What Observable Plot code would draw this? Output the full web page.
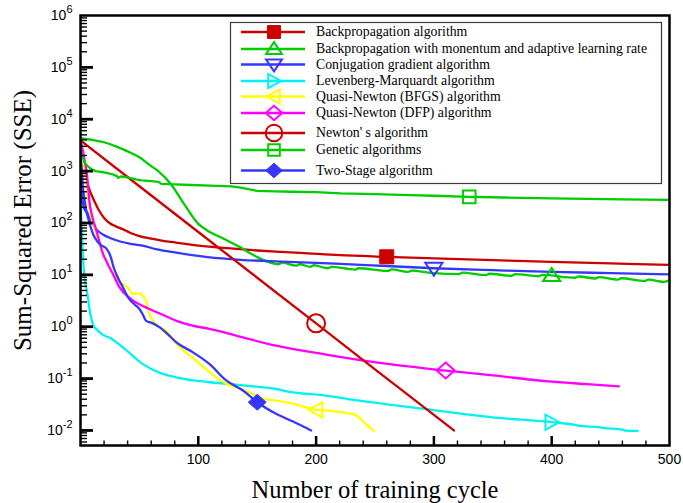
<!DOCTYPE html>
<html>
<head>
<meta charset="utf-8">
<script src="https://cdn.jsdelivr.net/npm/d3@7"></script>
<script src="https://cdn.jsdelivr.net/npm/@observablehq/plot@0.6"></script>
<style>
  html, body { margin: 0; padding: 0; background: #fff; }
  #chart svg { display: block; }
</style>
</head>
<body>
<div id="chart"></div>
<script>
// ---- Sum-squared error vs. training cycle, one pair of arrays per algorithm ----
const bpCycle = [0, 1, 2, 3, 4.8, 7, 10.4, 13, 16, 20, 24.6, 30, 35.8, 42, 50, 60, 70, 81, 95, 109, 130, 150, 166, 187, 220, 260, 300, 350, 400, 450, 500];
const bpSSE   = [3900, 3000, 2000, 1300, 740, 480, 310, 230, 170, 125, 100, 86, 76, 65, 56, 50, 45, 42, 38, 35, 32, 29.5, 28, 26.5, 24, 22.3, 20.8, 19.2, 17.8, 16.6, 15.5];

const bpmCycle = [0, 10, 20, 30, 40, 50, 60, 66, 77, 88, 100, 108, 122, 136, 150, 160, 168, 171, 183, 186, 195, 198, 210, 213, 233, 236, 261, 264, 278, 281, 298, 321, 324, 344, 347, 366, 369, 389, 392, 420, 423, 437, 440, 456, 459, 479, 482, 496, 499, 500];
const bpmSSE   = [4300, 4000, 3600, 3000, 2400, 1850, 1250, 1000, 550, 230, 96, 71, 49, 33.5, 22, 17.5, 16.0, 17.2, 15.0, 16.0, 14.3, 15.3, 13.4, 14.3, 12.6, 13.4, 11.9, 12.7, 11.4, 12.1, 10.9, 10.3, 11.0, 9.9, 10.5, 9.6, 10.3, 9.4, 10.0, 8.8, 9.3, 8.5, 9.0, 8.1, 8.6, 7.6, 8.1, 7.3, 7.7, 7.6];

const cgCycle = [0, 1, 2, 3.4, 4.8, 6.2, 9, 13.3, 19, 27.4, 41.5, 51.7, 65, 80, 108, 136, 170, 221, 260, 300, 350, 400, 450, 500];
const cgSSE   = [2500, 1200, 500, 290, 180, 150, 110, 76, 60, 49, 40, 37, 31, 27, 22, 19.5, 18, 16.3, 14.8, 13.4, 12.3, 11.4, 10.8, 10.2];

const lmCycle = [0, 1, 2, 3.4, 5, 6.5, 7.6, 9.3, 11, 13.6, 18, 24.8, 39, 53, 67, 81, 110, 138, 166, 179, 208, 235, 292, 348, 402, 420, 424, 440, 444, 460, 463, 473];
const lmSSE   = [300, 80, 25, 9, 5.5, 3.4, 2.2, 1.4, 1.05, 0.9, 0.72, 0.61, 0.35, 0.19, 0.13, 0.106, 0.085, 0.074, 0.063, 0.055, 0.047, 0.038, 0.026, 0.018, 0.0143, 0.0128, 0.0122, 0.0116, 0.0112, 0.0104, 0.0099, 0.0098];

const bfgsCycle = [0, 2, 3.5, 5.1, 7.9, 10.5, 13.6, 17, 22, 26, 30.2, 33, 35.9, 40, 44.3, 48.6, 52.8, 55.7, 57, 59.9, 64.1, 72.6, 81.4, 98.3, 115, 123.7, 132, 145, 155, 165, 180, 200, 212, 224, 234, 241, 249];
const bfgsSSE   = [3000, 1800, 900, 480, 170, 100, 60, 33, 18.6, 12, 8.9, 7.7, 6.6, 5.8, 4.3, 4.4, 4.0, 3.2, 2.3, 1.5, 1.12, 0.83, 0.47, 0.22, 0.106, 0.079, 0.068, 0.052, 0.041, 0.038, 0.033, 0.025, 0.024, 0.022, 0.0195, 0.014, 0.0098];

const dfpCycle = [0, 2, 3.5, 5.1, 7.9, 10.5, 13.6, 16.5, 19.2, 21.8, 27.4, 33, 41.5, 50, 58.5, 69.7, 81.4, 95, 109.6, 137.9, 166, 208.5, 254, 310, 350, 400, 430, 457];
const dfpSSE   = [3500, 2500, 1600, 1000, 230, 120, 70, 40, 25, 18.6, 10.5, 5.8, 3.6, 2.7, 2.2, 1.7, 1.3, 1.05, 0.91, 0.62, 0.43, 0.29, 0.2, 0.143, 0.115, 0.087, 0.078, 0.071];

const newtonCycle = [0, 50, 100, 150, 200, 250, 300, 317];
const newtonSSE   = [3900, 510, 67, 8.8, 1.16, 0.15, 0.02, 0.01];

const gaCycle = [0, 2, 4, 6, 8, 10, 13, 20, 27, 31, 32, 34, 40, 47, 52, 60, 66, 69, 80, 94, 110, 128, 136, 150, 165, 180, 200, 221, 250, 280, 300, 330, 360, 400, 430, 460, 500];
const gaSSE   = [2500, 1800, 1400, 1250, 1150, 1070, 1000, 950, 870, 800, 740, 790, 760, 690, 660, 640, 620, 565, 555, 540, 525, 510, 480, 415, 405, 400, 395, 372, 360, 345, 335, 318, 310, 298, 292, 285, 278];

const tsCycle = [0, 1, 2, 3, 5, 6.5, 8.5, 10.8, 14, 17.8, 22, 24.8, 26, 27.7, 30.2, 33, 35.9, 38.7, 41.5, 45.8, 50, 52.8, 55.7, 59.9, 64.4, 67, 74, 81.4, 95.5, 109.6, 123.7, 137.9, 150, 166, 180, 195.8];
const tsSSE   = [2500, 800, 250, 190, 160, 125, 85, 60, 45, 37, 32, 25, 21, 15, 10.5, 7.7, 5.8, 4.3, 3.4, 2.7, 2.2, 1.74, 1.3, 1.2, 1.07, 0.98, 0.72, 0.50, 0.32, 0.19, 0.092, 0.059, 0.035, 0.021, 0.015, 0.01];

// Legend names, in legend order
const algorithmNames = [
  "Backpropagation algorithm",
  "Backpropagation with monentum and adaptive learning rate",
  "Conjugation gradient algorithm",
  "Levenberg-Marquardt algorithm",
  "Quasi-Newton (BFGS) algorithm",
  "Quasi-Newton (DFP) algorithm",
  "Newton' s algorithm",
  "Genetic algorithms",
  "Two-Stage algorithm"
];

// Training cycle at which each curve carries its symbol
const markerCycle = [260, 400, 300, 400, 200, 310, 200, 330, 150];

// Axis ticks
const xTickLabels = [100, 200, 300, 400, 500];
const yDecades = [-2, -1, 0, 1, 2, 3, 4, 5, 6];
const xTitle = "Number of training cycle";
const yTitle = "Sum-Squared Error (SSE)";

// ---- Marker shapes (r = half-extent in px) ----
const shape = (fn) => ({ draw(ctx, size) { fn(ctx, Math.sqrt(size / Math.PI)); } });
const symSquare = shape((c, r) => { c.moveTo(-r, -r); c.lineTo(r, -r); c.lineTo(r, r); c.lineTo(-r, r); c.closePath(); });
const symTriUp = shape((c, r) => { c.moveTo(0, -r); c.lineTo(r * 1.15, r * 0.72); c.lineTo(-r * 1.15, r * 0.72); c.closePath(); });
const symTriDown = shape((c, r) => { c.moveTo(0, r); c.lineTo(r * 1.15, -r * 0.72); c.lineTo(-r * 1.15, -r * 0.72); c.closePath(); });
const symTriRight = shape((c, r) => { c.moveTo(r, 0); c.lineTo(-r * 0.8, r * 0.98); c.lineTo(-r * 0.8, -r * 0.98); c.closePath(); });
const symTriLeft = shape((c, r) => { c.moveTo(-r, 0); c.lineTo(r * 0.8, r * 0.98); c.lineTo(r * 0.8, -r * 0.98); c.closePath(); });
const symDiamond = shape((c, r) => { c.moveTo(0, -r * 0.88); c.lineTo(r, 0); c.lineTo(0, r * 0.88); c.lineTo(-r, 0); c.closePath(); });
const symCircle = shape((c, r) => { c.moveTo(r, 0); c.arc(0, 0, r, 0, 2 * Math.PI); });

const RED = "#cc0000", GREEN = "#00cc00", BLUE = "#3636ff", CYAN = "#00f2f2", YELLOW = "#ffff00", MAGENTA = "#ff00ff";

const styles = [
  { color: RED,     symbol: symSquare,   r: 7,   filled: true,  curve: "monotone-x" },
  { color: GREEN,   symbol: symTriUp,    r: 7.5, filled: false, curve: "monotone-x" },
  { color: BLUE,    symbol: symTriDown,  r: 7.5, filled: false, curve: "monotone-x" },
  { color: CYAN,    symbol: symTriRight, r: 7.8, filled: false, curve: "monotone-x" },
  { color: YELLOW,  symbol: symTriLeft,  r: 7.8, filled: false, curve: "monotone-x" },
  { color: MAGENTA, symbol: symDiamond,  r: 9,   filled: false, curve: "monotone-x" },
  { color: RED,     symbol: symCircle,   r: 9,   filled: false, curve: "linear" },
  { color: GREEN,   symbol: symSquare,   r: 6.3, filled: false, curve: "linear" },
  { color: BLUE,    symbol: symDiamond,  r: 9,   filled: true,  curve: "monotone-x" }
];

const cycles = [bpCycle, bpmCycle, cgCycle, lmCycle, bfgsCycle, dfpCycle, newtonCycle, gaCycle, tsCycle];
const errors = [bpSSE, bpmSSE, cgSSE, lmSSE, bfgsSSE, dfpSSE, newtonSSE, gaSSE, tsSSE];

// Tidy rows for each curve
const series = algorithmNames.map((name, i) => ({
  name,
  rows: cycles[i].map((c, j) => ({ cycle: c, sse: errors[i][j] })),
  ...styles[i]
}));

// Position of each curve's symbol: log-linear interpolation along its own data
function sseAt(cyc, sse, x) {
  for (let j = 0; j < cyc.length - 1; j++) {
    if (x >= cyc[j] && x <= cyc[j + 1]) {
      const t = (x - cyc[j]) / (cyc[j + 1] - cyc[j]);
      return 10 ** (Math.log10(sse[j]) * (1 - t) + Math.log10(sse[j + 1]) * t);
    }
  }
  return sse[sse.length - 1];
}
series.forEach((s, i) => { s.marker = { cycle: markerCycle[i], sse: sseAt(cycles[i], errors[i], markerCycle[i]) }; });

// Tick positions
const majorX = d3.range(100, 500, 100);
const minorX = d3.range(20, 500, 20).filter(v => v % 100 !== 0);
const majorY = yDecades.slice(0, -1).map(e => 10 ** e);
const yMin = 10 ** -2.29;
const minorY = [];
for (let e = -3; e < 6; e++) for (let m = 2; m <= 9; m++) { const v = m * 10 ** e; if (v > yMin && v < 1e6) minorY.push(v); }

const W = 683, H = 503;
const M = { top: 15, right: 14, bottom: 58, left: 80 };
const plotW = W - M.left - M.right, plotH = H - M.top - M.bottom;
const SERIF = "'Liberation Serif', 'Times New Roman', serif";
const SANS = "'Liberation Sans', Arial, sans-serif";

const svg = Plot.plot({
  width: W, height: H,
  marginTop: M.top, marginRight: M.right, marginBottom: M.bottom, marginLeft: M.left,
  style: { background: "white", color: "black" },
  x: { domain: [0, 500] },
  y: { type: "log", domain: [yMin, 1e6] },
  marks: [
    ...series.map(s => Plot.line(s.rows, { x: "cycle", y: "sse", stroke: s.color, strokeWidth: 2.3, curve: s.curve, clip: true })),
    ...series.map(s => Plot.dot([s.marker], {
      x: "cycle", y: "sse", symbol: s.symbol, r: s.r,
      fill: s.filled ? s.color : "none", stroke: s.color, strokeWidth: s.filled ? 1 : 2
    })),
    // inward ticks
    Plot.ruleX(minorX, { x: d => d, insetTop: plotH - 4.5, strokeWidth: 1.4 }),
    Plot.ruleX(majorX, { x: d => d, insetTop: plotH - 9, strokeWidth: 2.5 }),
    Plot.ruleY(minorY, { y: d => d, insetRight: plotW - 7, strokeWidth: 1.4 }),
    Plot.ruleY(majorY, { y: d => d, insetRight: plotW - 13, strokeWidth: 2.8 }),
    Plot.frame({ stroke: "black", strokeWidth: 2.5 }),
    Plot.axisX({ ticks: xTickLabels, tickSize: 0, tickPadding: 9, fontSize: 14, fontFamily: SANS, label: null }),
    Plot.axisY({ ticks: yDecades.map(e => 10 ** e), tickSize: 0, tickPadding: 8, fontSize: 14, fontFamily: SANS, label: null,
      tickFormat: d => `10^${Math.round(Math.log10(d))}` }),
    Plot.text([xTitle], { text: d => d, frameAnchor: "bottom", lineAnchor: "middle", textAnchor: "middle", dy: 45, fontSize: 24.5, fontFamily: SERIF }),
    Plot.text([yTitle], { text: d => d, frameAnchor: "left", textAnchor: "middle", lineAnchor: "middle", rotate: -90, dx: -58, dy: -10, fontSize: 25, fontFamily: SERIF })
  ]
});

// Decade labels as 10 with a raised exponent
d3.select(svg).selectAll('[aria-label="y-axis tick label"] text').each(function () {
  const [base, exp] = this.textContent.split("^");
  const t = d3.select(this);
  t.text(null);
  t.append("tspan").text(base);
  t.append("tspan").attr("dy", -7).attr("font-size", 11).text(exp);
});

// Legend box in the upper right of the plot
const legendRows = [32, 49, 64.5, 81, 96.5, 113, 133, 150, 170.5];
const lg = d3.select(svg).append("g").attr("font-family", SERIF).attr("font-size", 13.8)
  .attr("fill", "black").attr("text-anchor", "start");
lg.append("rect").attr("x", 230.5).attr("y", 22.5).attr("width", 431).attr("height", 161)
  .attr("fill", "white").attr("stroke", "#3a3a3a").attr("stroke-width", 1.2);
series.forEach((s, i) => {
  const y = legendRows[i];
  lg.append("line").attr("x1", 241).attr("x2", 305).attr("y1", y).attr("y2", y)
    .attr("stroke", s.color).attr("stroke-width", 2.3);
  const rr = s.r * 0.92;
  lg.append("path").attr("transform", `translate(274,${y})`)
    .attr("d", d3.symbol(s.symbol, rr * rr * Math.PI)())
    .attr("fill", s.filled ? s.color : "none").attr("stroke", s.color).attr("stroke-width", s.filled ? 1 : 2);
  lg.append("text").attr("x", 316).attr("y", y).attr("dy", "0.32em").text(s.name);
});

document.getElementById("chart").appendChild(svg);
</script>
</body>
</html>
